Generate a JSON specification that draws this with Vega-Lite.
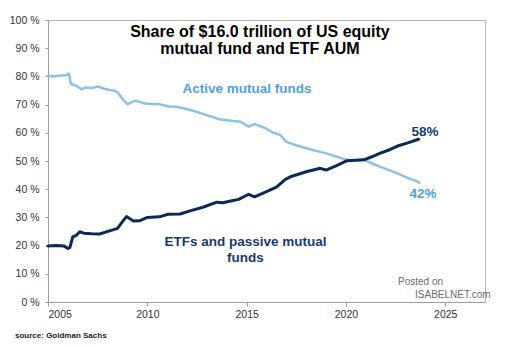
{
  "$schema": "https://vega.github.io/schema/vega-lite/v6.json",
  "autosize": "none",
  "width": 437,
  "height": 282,
  "padding": {"left": 48, "top": 20, "right": 29, "bottom": 45},
  "background": "white",
  "resolve": {"axis": {"x": "independent", "y": "independent"}},
  "config": {
    "view": {"stroke": "#a0a0a0", "strokeWidth": 1},
    "font": "Liberation Sans",
    "axis": {"grid": false, "domainColor": "#9e9e9e", "tickColor": "#9e9e9e", "labelColor": "#333333", "labelFont": "Liberation Sans", "labelFontSize": 10.5, "labelOverlap": false}
  },
  "datasets": {
    "series": [
      {"year": 2005.0, "pct": 80.2, "series": "Active"},
      {"year": 2005.3, "pct": 80.0, "series": "Active"},
      {"year": 2005.6, "pct": 80.3, "series": "Active"},
      {"year": 2005.9, "pct": 80.4, "series": "Active"},
      {"year": 2006.05, "pct": 81.0, "series": "Active"},
      {"year": 2006.15, "pct": 77.3, "series": "Active"},
      {"year": 2006.4, "pct": 76.8, "series": "Active"},
      {"year": 2006.7, "pct": 75.4, "series": "Active"},
      {"year": 2006.9, "pct": 76.1, "series": "Active"},
      {"year": 2007.2, "pct": 75.9, "series": "Active"},
      {"year": 2007.5, "pct": 76.4, "series": "Active"},
      {"year": 2007.8, "pct": 75.7, "series": "Active"},
      {"year": 2008.1, "pct": 75.2, "series": "Active"},
      {"year": 2008.3, "pct": 75.0, "series": "Active"},
      {"year": 2008.5, "pct": 74.4, "series": "Active"},
      {"year": 2008.75, "pct": 72.0, "series": "Active"},
      {"year": 2009.0, "pct": 70.2, "series": "Active"},
      {"year": 2009.2, "pct": 70.8, "series": "Active"},
      {"year": 2009.4, "pct": 71.4, "series": "Active"},
      {"year": 2009.6, "pct": 71.0, "series": "Active"},
      {"year": 2009.8, "pct": 70.5, "series": "Active"},
      {"year": 2010.2, "pct": 70.2, "series": "Active"},
      {"year": 2010.6, "pct": 70.1, "series": "Active"},
      {"year": 2011.1, "pct": 69.3, "series": "Active"},
      {"year": 2011.5, "pct": 69.2, "series": "Active"},
      {"year": 2011.8, "pct": 68.7, "series": "Active"},
      {"year": 2012.3, "pct": 67.8, "series": "Active"},
      {"year": 2012.8, "pct": 66.7, "series": "Active"},
      {"year": 2013.2, "pct": 65.8, "series": "Active"},
      {"year": 2013.6, "pct": 64.8, "series": "Active"},
      {"year": 2014.2, "pct": 64.3, "series": "Active"},
      {"year": 2014.7, "pct": 63.9, "series": "Active"},
      {"year": 2015.1, "pct": 62.2, "series": "Active"},
      {"year": 2015.4, "pct": 63.1, "series": "Active"},
      {"year": 2015.9, "pct": 61.8, "series": "Active"},
      {"year": 2016.35, "pct": 60.0, "series": "Active"},
      {"year": 2016.7, "pct": 59.2, "series": "Active"},
      {"year": 2017.0, "pct": 56.8, "series": "Active"},
      {"year": 2017.5, "pct": 55.6, "series": "Active"},
      {"year": 2018.0, "pct": 54.5, "series": "Active"},
      {"year": 2018.5, "pct": 53.6, "series": "Active"},
      {"year": 2019.0, "pct": 52.7, "series": "Active"},
      {"year": 2019.5, "pct": 51.6, "series": "Active"},
      {"year": 2020.05, "pct": 50.4, "series": "Active"},
      {"year": 2020.5, "pct": 50.3, "series": "Active"},
      {"year": 2020.9, "pct": 50.4, "series": "Active"},
      {"year": 2021.3, "pct": 49.2, "series": "Active"},
      {"year": 2021.7, "pct": 48.0, "series": "Active"},
      {"year": 2022.2, "pct": 46.7, "series": "Active"},
      {"year": 2022.6, "pct": 45.6, "series": "Active"},
      {"year": 2023.1, "pct": 44.0, "series": "Active"},
      {"year": 2023.6, "pct": 42.7, "series": "Active"},
      {"year": 2023.7, "pct": 42.3, "series": "Active"},
      {"year": 2005.0, "pct": 19.9, "series": "Passive"},
      {"year": 2005.4, "pct": 20.0, "series": "Passive"},
      {"year": 2005.8, "pct": 19.9, "series": "Passive"},
      {"year": 2006.0, "pct": 19.0, "series": "Passive"},
      {"year": 2006.1, "pct": 19.3, "series": "Passive"},
      {"year": 2006.25, "pct": 23.2, "series": "Passive"},
      {"year": 2006.4, "pct": 23.5, "series": "Passive"},
      {"year": 2006.6, "pct": 24.9, "series": "Passive"},
      {"year": 2006.8, "pct": 24.4, "series": "Passive"},
      {"year": 2007.2, "pct": 24.2, "series": "Passive"},
      {"year": 2007.6, "pct": 24.1, "series": "Passive"},
      {"year": 2008.1, "pct": 25.2, "series": "Passive"},
      {"year": 2008.5, "pct": 26.1, "series": "Passive"},
      {"year": 2008.75, "pct": 28.5, "series": "Passive"},
      {"year": 2008.95, "pct": 30.3, "series": "Passive"},
      {"year": 2009.3, "pct": 28.7, "series": "Passive"},
      {"year": 2009.6, "pct": 28.8, "series": "Passive"},
      {"year": 2010.0, "pct": 30.0, "series": "Passive"},
      {"year": 2010.6, "pct": 30.2, "series": "Passive"},
      {"year": 2011.05, "pct": 31.1, "series": "Passive"},
      {"year": 2011.65, "pct": 31.2, "series": "Passive"},
      {"year": 2012.15, "pct": 32.3, "series": "Passive"},
      {"year": 2012.8, "pct": 33.6, "series": "Passive"},
      {"year": 2013.5, "pct": 35.4, "series": "Passive"},
      {"year": 2013.8, "pct": 35.2, "series": "Passive"},
      {"year": 2014.2, "pct": 35.8, "series": "Passive"},
      {"year": 2014.6, "pct": 36.4, "series": "Passive"},
      {"year": 2015.1, "pct": 38.2, "series": "Passive"},
      {"year": 2015.4, "pct": 37.3, "series": "Passive"},
      {"year": 2016.0, "pct": 39.1, "series": "Passive"},
      {"year": 2016.5, "pct": 40.7, "series": "Passive"},
      {"year": 2016.95, "pct": 43.5, "series": "Passive"},
      {"year": 2017.2, "pct": 44.4, "series": "Passive"},
      {"year": 2017.6, "pct": 45.3, "series": "Passive"},
      {"year": 2018.0, "pct": 46.2, "series": "Passive"},
      {"year": 2018.7, "pct": 47.4, "series": "Passive"},
      {"year": 2019.0, "pct": 46.8, "series": "Passive"},
      {"year": 2019.5, "pct": 48.3, "series": "Passive"},
      {"year": 2020.05, "pct": 50.1, "series": "Passive"},
      {"year": 2020.5, "pct": 50.3, "series": "Passive"},
      {"year": 2020.9, "pct": 50.4, "series": "Passive"},
      {"year": 2021.3, "pct": 51.5, "series": "Passive"},
      {"year": 2021.7, "pct": 52.7, "series": "Passive"},
      {"year": 2022.2, "pct": 54.0, "series": "Passive"},
      {"year": 2022.6, "pct": 55.3, "series": "Passive"},
      {"year": 2023.15, "pct": 56.5, "series": "Passive"},
      {"year": 2023.65, "pct": 57.7, "series": "Passive"}
    ]
  },
  "encoding": {
    "x": {"field": "year", "type": "quantitative", "scale": {"domain": [2005, 2027], "nice": false, "zero": false}, "axis": null},
    "y": {"field": "pct", "type": "quantitative", "scale": {"domain": [0, 100], "nice": false}, "axis": null}
  },
  "layer": [
    {
      "data": {"values": [{"year": 2027, "pct": 100}]},
      "mark": {"type": "point", "opacity": 0},
      "encoding": {
        "x": {"field": "year", "type": "quantitative", "axis": {"orient": "top", "labels": false, "ticks": false, "domain": true, "domainColor": "#b4b4b4", "title": null}},
        "y": {"field": "pct", "type": "quantitative", "axis": {"orient": "right", "labels": false, "ticks": false, "domain": true, "domainColor": "#b4b4b4", "title": null}}
      }
    },
    {
      "data": {"name": "series"},
      "mark": {"type": "line", "strokeJoin": "round", "strokeCap": "round"},
      "encoding": {
        "x": {"field": "year", "type": "quantitative",
              "axis": {"values": [2005, 2010, 2015, 2020, 2025], "format": "d", "tickSize": 4, "labelPadding": 3, "labelOverlap": false, "title": null}},
        "y": {"field": "pct", "type": "quantitative",
              "axis": {"values": [0, 10, 20, 30, 40, 50, 60, 70, 80, 90, 100], "labelExpr": "datum.value + ' %'", "tickSize": 3, "labelPadding": 6, "labelOverlap": false, "title": null}},
        "color": {"field": "series", "type": "nominal", "scale": {"domain": ["Active", "Passive"], "range": ["#8cc1e8", "#0c2a55"]}, "legend": null},
        "strokeWidth": {"field": "series", "type": "nominal", "scale": {"domain": ["Active", "Passive"], "range": [2.5, 3]}, "legend": null}
      }
    },
    {
      "data": {"values": [{"year": 2015.67, "pct": 95.9, "label": "Share of $16.0 trillion of US equity"}, {"year": 2015.67, "pct": 89.6, "label": "mutual fund and ETF AUM"}]},
      "mark": {"type": "text", "font": "Liberation Sans", "fontSize": 16, "fontWeight": "bold", "color": "#000000", "align": "center", "baseline": "middle"},
      "encoding": {"text": {"field": "label"}}
    },
    {
      "data": {"values": [{"year": 2015.02, "pct": 75.5, "label": "Active mutual funds"}, {"year": 2023.88, "pct": 38.3, "label": "42%"}]},
      "mark": {"type": "text", "font": "Liberation Sans", "fontSize": 13.5, "fontWeight": "bold", "color": "#4f9fdb", "baseline": "middle"},
      "encoding": {"text": {"field": "label"},
        "align": {"condition": {"test": "datum.label === '42%'", "value": "left"}, "value": "center"}}
    },
    {
      "data": {"values": [{"year": 2014.94, "pct": 21.3, "label": "ETFs and passive mutual"}, {"year": 2014.94, "pct": 15.6, "label": "funds"}, {"year": 2023.98, "pct": 60.3, "label": "58%"}]},
      "mark": {"type": "text", "font": "Liberation Sans", "fontSize": 13.5, "fontWeight": "bold", "color": "#173a6e", "baseline": "middle"},
      "encoding": {"text": {"field": "label"},
        "align": {"condition": {"test": "datum.label === '58%'", "value": "left"}, "value": "center"}}
    },
    {
      "data": {"values": [{"year": 2022.62, "pct": 7.1, "label": "Posted on"}]},
      "mark": {"type": "text", "font": "Liberation Sans", "fontSize": 10, "color": "#6b6b6b", "align": "left", "baseline": "middle"},
      "encoding": {"text": {"field": "label"}}
    },
    {
      "data": {"values": [{"year": 2023.48, "pct": 2.5, "label": "ISABELNET.com"}]},
      "mark": {"type": "text", "font": "Liberation Sans", "fontSize": 10, "color": "#6b6b6b", "align": "left", "baseline": "middle"},
      "encoding": {"text": {"field": "label"}}
    },
    {
      "data": {"values": [{"year": 2003.34, "pct": -12.1, "label": "source: Goldman Sachs"}]},
      "mark": {"type": "text", "font": "Liberation Sans", "fontSize": 8, "fontWeight": "bold", "color": "#222222", "align": "left", "baseline": "middle", "clip": false},
      "encoding": {"text": {"field": "label"}}
    }
  ]
}
